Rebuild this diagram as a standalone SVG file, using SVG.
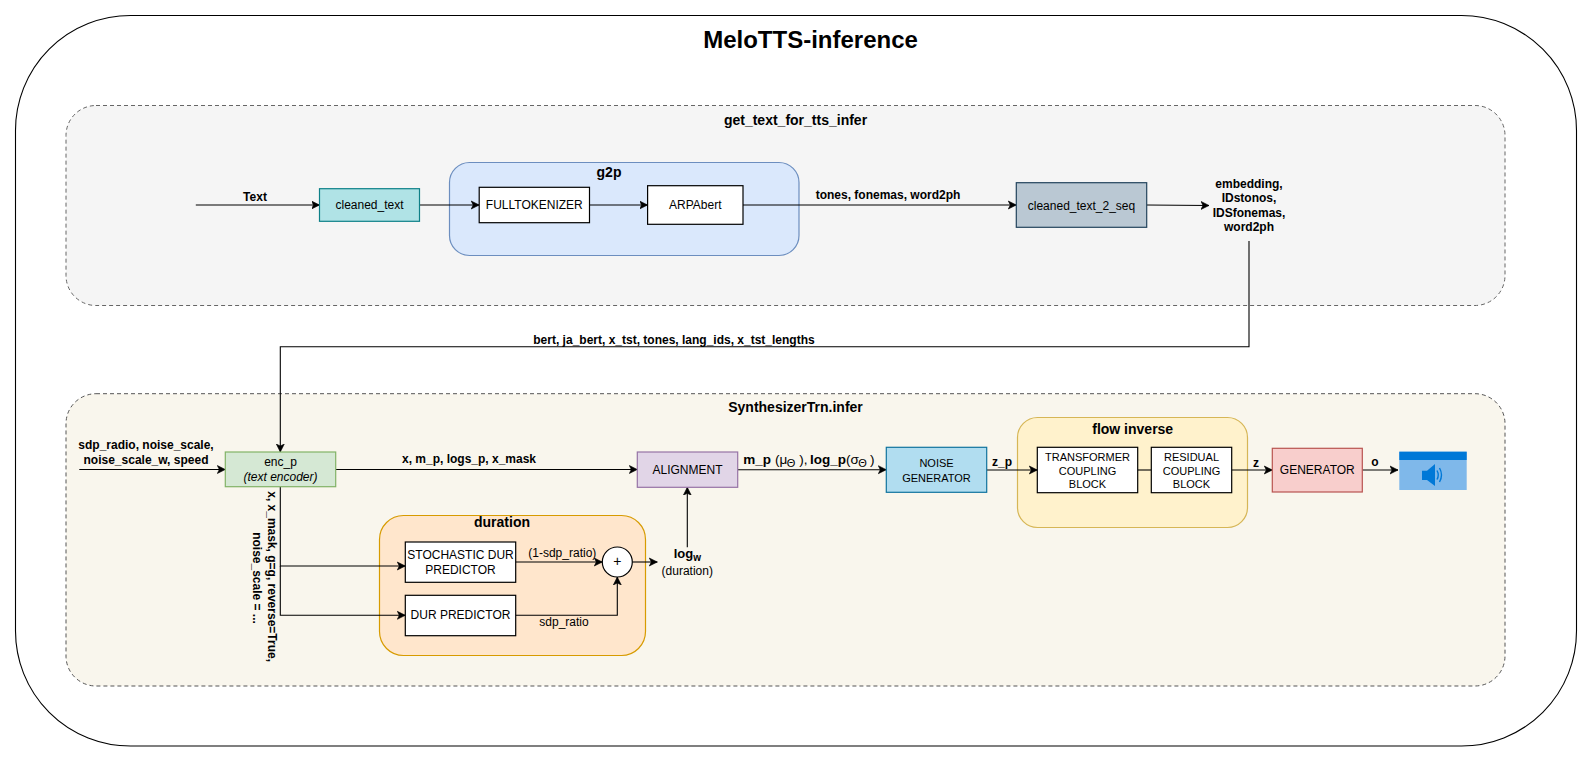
<svg xmlns="http://www.w3.org/2000/svg" width="1591" height="761" viewBox="0 0 1591 761">
<style>
text{font-family:"Liberation Sans",Arial,sans-serif;font-size:12px;fill:#000;text-anchor:middle}
.b{font-weight:700}
.t14{font-size:14px;font-weight:700}
.s11{font-size:11px}
.box{stroke-width:1.2}
.white{fill:#fff;stroke:#000;stroke-width:1.2}
.line{fill:none;stroke:#000;stroke-width:1.1}
.arrow{marker-end:url(#arr)}
</style>
<defs>
<marker id="arr" markerUnits="userSpaceOnUse" markerWidth="10" markerHeight="10" refX="8" refY="5" orient="auto">
<path d="M0,1 L8,5 L0,9 L2,5 Z" fill="#000" stroke="#000" stroke-width="0.6"/>
</marker>
</defs>
<rect width="1591" height="761" fill="#fff"/>
<g id="outer">
<rect x="15.5" y="15.5" width="1561" height="730.5" rx="115" ry="115" fill="#fff" stroke="#000" stroke-width="1.1"/>
<text x="810.5" y="48" style="font-size:24px;font-weight:700">MeloTTS-inference</text>
</g>
<g id="panel-get-text">
<rect x="66" y="105.5" width="1439" height="200" rx="30" ry="30" fill="#f5f5f5" stroke="#666" stroke-dasharray="4 3"/>
<text x="795.5" y="125" class="t14">get_text_for_tts_infer</text>
</g>
<g id="panel-synth">
<rect x="66" y="393.7" width="1439" height="292.3" rx="30" ry="30" fill="#f9f6ed" stroke="#555" stroke-dasharray="4 3"/>
<text x="795.5" y="412" class="t14">SynthesizerTrn.infer</text>
</g>
<g id="g2p">
<rect x="449.5" y="162.5" width="349.5" height="93" rx="20" ry="20" fill="#dae8fc" stroke="#6c8ebf" class="box"/>
<text x="609" y="177.3" class="t14">g2p</text>
</g>
<g id="duration">
<rect x="379.5" y="515.5" width="266" height="140" rx="24" ry="24" fill="#ffe6cc" stroke="#d79b00" class="box"/>
<text x="502" y="527.3" class="t14">duration</text>
</g>
<g id="flow-inverse">
<rect x="1017.5" y="417.5" width="230" height="110" rx="20" ry="20" fill="#fff2cc" stroke="#d6b656" class="box"/>
<text x="1132.7" y="434.3" class="t14">flow inverse</text>
</g>
<g id="connectors">
<path class="line arrow" d="M195.8,205 L319.5,205"/>
<path class="line arrow" d="M419.5,205 L479.2,205"/>
<path class="line arrow" d="M589.5,205 L647.6,205"/>
<path class="line arrow" d="M743,205 L1016.3,205"/>
<path class="line arrow" d="M1146.7,205 L1209,205.5"/>
<path class="line arrow" d="M1249,241 L1249,346.7 L280.3,346.7 L280.3,452"/>
<path class="line arrow" d="M79.3,469.5 L225.3,469.5"/>
<path class="line arrow" d="M335.7,469.5 L637.3,469.5"/>
<path class="line arrow" d="M280.3,486.7 L280.3,566 L405.3,566"/>
<path class="line arrow" d="M280.3,566 L280.3,615.3 L405.3,615.3"/>
<path class="line arrow" d="M515.7,562 L602.3,562"/>
<path class="line arrow" d="M515.7,615.3 L617.3,615.3 L617.3,577"/>
<path class="line arrow" d="M632.3,562 L657.3,562"/>
<path class="line arrow" d="M687.3,547.3 L687.3,487.3"/>
<path class="line arrow" d="M737.7,469.7 L886.3,469.7"/>
<path class="line arrow" d="M986.7,470 L1037.3,470"/>
<path class="line" d="M1137.7,470 L1151.3,470"/>
<path class="line arrow" d="M1231.7,470 L1272.3,470"/>
<path class="line arrow" d="M1362.3,470 L1398,470"/>
</g>
<g id="cleaned-text">
<rect x="319.5" y="188.7" width="100" height="32.6" fill="#b0e3e6" stroke="#0e8088" class="box"/>
<text x="369.5" y="208.7">cleaned_text</text>
</g>
<g id="fulltokenizer">
<rect x="479.2" y="187.3" width="110.3" height="35.4" class="white"/>
<text x="534.3" y="208.7">FULLTOKENIZER</text>
</g>
<g id="arpabert">
<rect x="647.6" y="185.7" width="95.4" height="38.6" class="white"/>
<text x="695.3" y="208.7">ARPAbert</text>
</g>
<g id="cleaned-text-2-seq">
<rect x="1016.3" y="182.7" width="130.4" height="44.6" fill="#bac8d3" stroke="#23445d" class="box"/>
<text x="1081.5" y="209.5">cleaned_text_2_seq</text>
</g>
<g id="enc-p">
<rect x="225.3" y="452" width="110.4" height="34.7" fill="#d5e8d4" stroke="#82b366" class="box"/>
<text x="280.5" y="466">enc_p</text>
<text x="280.5" y="480.7" font-style="italic">(text encoder)</text>
</g>
<g id="alignment">
<rect x="637.3" y="452" width="100.4" height="35.3" fill="#e1d5e7" stroke="#9673a6" class="box"/>
<text x="687.5" y="473.7">ALIGNMENT</text>
</g>
<g id="noise-generator">
<rect x="886.3" y="447.3" width="100.4" height="45" fill="#b1ddf0" stroke="#10739e" class="box"/>
<text x="936.5" y="466.7" class="s11">NOISE</text>
<text x="936.5" y="482" class="s11">GENERATOR</text>
</g>
<g id="transformer-coupling">
<rect x="1037.3" y="447.3" width="100.4" height="45.4" class="white"/>
<text x="1087.5" y="461" class="s11">TRANSFORMER</text>
<text x="1087.5" y="475" class="s11">COUPLING</text>
<text x="1087.5" y="488" class="s11">BLOCK</text>
</g>
<g id="residual-coupling">
<rect x="1151.3" y="447.3" width="80.4" height="45.4" class="white"/>
<text x="1191.5" y="461" class="s11">RESIDUAL</text>
<text x="1191.5" y="475" class="s11">COUPLING</text>
<text x="1191.5" y="488" class="s11">BLOCK</text>
</g>
<g id="generator">
<rect x="1272.3" y="448.3" width="90" height="43.7" fill="#f8cecc" stroke="#b85450" class="box"/>
<text x="1317.3" y="474">GENERATOR</text>
</g>
<g id="audio">
<rect x="1399.3" y="451.7" width="67.4" height="38.3" fill="#7fb8ea"/>
<rect x="1399.3" y="451.7" width="67.4" height="8.3" fill="#0078d7"/>
<path d="M1422,470.7 H1427 L1435,464 V486 L1427,480 H1422 Z" fill="#0078d7"/>
<path d="M1437,470.5 Q1439.5,475 1437,479.5 M1439.5,468 Q1443.5,475 1439.5,482" fill="none" stroke="#0078d7" stroke-width="1.4"/>
</g>
<g id="stochastic-dur">
<rect x="405.3" y="542" width="110.4" height="40.3" class="white"/>
<text x="460.5" y="559">STOCHASTIC DUR</text>
<text x="460.5" y="573.7">PREDICTOR</text>
</g>
<g id="dur-predictor">
<rect x="405.3" y="595.3" width="110.4" height="40.4" class="white"/>
<text x="460.5" y="619.3">DUR PREDICTOR</text>
</g>
<g id="sum">
<circle cx="617.3" cy="562" r="15" fill="#fff" stroke="#000" stroke-width="1.2"/>
<text x="617.3" y="565.5" style="font-size:14px">+</text>
</g>
<g id="labels">
<text x="255" y="200.7" class="b">Text</text>
<text x="888" y="199" class="b">tones, fonemas, word2ph</text>
<text x="1249" y="188" class="b">embedding,</text>
<text x="1249" y="202.3" class="b">IDstonos,</text>
<text x="1249" y="216.7" class="b">IDSfonemas,</text>
<text x="1249" y="231" class="b">word2ph</text>
<text x="674" y="344" class="b">bert, ja_bert, x_tst, tones, lang_ids, x_tst_lengths</text>
<text x="146" y="448.7" class="b">sdp_radio, noise_scale,</text>
<text x="146" y="464" class="b">noise_scale_w, speed</text>
<text x="469" y="463" class="b">x, m_p, logs_p, x_mask</text>
<text transform="translate(267.5,576.6) rotate(90)" class="b">x, x_mask, g=g, reverse=True,</text>
<text transform="translate(253.3,578) rotate(90)" class="b">noise_scale = ...</text>
<text x="562.3" y="556.7">(1-sdp_ratio)</text>
<text x="564" y="625.7">sdp_ratio</text>
<text x="687.3" y="558" class="b" style="font-size:13px">log<tspan dy="3" style="font-size:10px">w</tspan></text>
<text x="687.3" y="575">(duration)</text>
<text y="464" style="font-size:13.5px;text-anchor:start"><tspan x="743.3" class="b">m_p</tspan><tspan x="775">(μ</tspan><tspan x="786.7" dy="3" style="font-size:11px">Θ</tspan><tspan x="799.3" dy="-3">),</tspan><tspan x="810" class="b">log_p</tspan><tspan x="846">(σ</tspan><tspan x="858.3" dy="3" style="font-size:11px">Θ</tspan><tspan x="870" dy="-3">)</tspan></text>
<text x="1002" y="465.7" class="b">z_p</text>
<text x="1256" y="466.7" class="b">z</text>
<text x="1375" y="466" class="b">o</text>
</g>
</svg>
